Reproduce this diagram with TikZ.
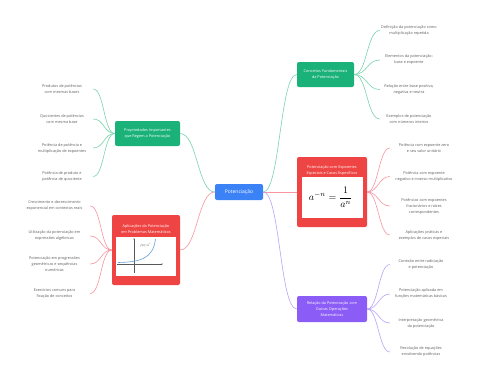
\documentclass[tikz,border=0pt]{standalone}
\usepackage{fontspec}
\setmainfont{Open Sans}
\usetikzlibrary{arrows.meta}
\definecolor{gnode}{RGB}{26,178,120}
\definecolor{gline}{RGB}{120,212,175}
\definecolor{rnode}{RGB}{239,68,68}
\definecolor{rline}{RGB}{248,150,162}
\definecolor{pnode}{RGB}{139,92,246}
\definecolor{pline}{RGB}{184,164,250}
\definecolor{bnode}{RGB}{59,130,246}
\definecolor{leaftext}{RGB}{95,95,95}
\definecolor{curveblue}{RGB}{100,160,215}
\tikzset{
  mainbox/.style={draw=none, rounded corners=2pt, text=white, align=center,
    font=\fontsize{3.8}{5.8}\selectfont, inner sep=0pt},
  leaf/.style={align=center, text=leaftext, font=\fontsize{3.8}{6}\selectfont, inner sep=0pt},
  conn/.style={line width=0.6pt},
}
\begin{document}
\begin{tikzpicture}[x=1pt,y=-1pt]
\useasboundingbox (0,0) rectangle (480,384);
\fill[white] (0,0) rectangle (480,384);

% main nodes
\node[mainbox, fill=bnode, minimum width=48pt, minimum height=16pt, font=\fontsize{5}{6}\selectfont] (c) at (239,192) {Potenciação};
\node[mainbox, fill=gnode, minimum width=65pt, minimum height=25pt] (prop) at (147.5,133.5) {Propriedades Importantes\\que Regem a Potenciação};
\node[mainbox, fill=gnode, minimum width=57pt, minimum height=25pt] (conc) at (325.5,74.5) {Conceitos Fundamentais\\da Potenciação};
\node[mainbox, fill=pnode, minimum width=70pt, minimum height=26pt] (rel) at (332,309) {Relação da Potenciação com\\Outras Operações\\Matemáticas};
\node[mainbox, fill=rnode, minimum width=68pt, minimum height=70pt] (apl) at (146,250) {};
\node[mainbox, fill=rnode, minimum width=70pt, minimum height=70pt] (esp) at (332,192) {};

% red node contents
\node[mainbox] (apltitle) at (146,229) {Aplicações da Potenciação\\em Problemas Matemáticos};
\node[fill=white, minimum width=60pt, minimum height=39pt, inner sep=0pt] (aplimg) at (146,256.5) {};
\node[mainbox] (esptitle) at (332,170.5) {Potenciação com Expoentes\\Especiais e Casos Específicos};
\node[fill=white, minimum width=61pt, minimum height=41pt, inner sep=0pt] (espimg) at (332.5,197.5) {};
\node[inner sep=0pt, font=\fontsize{10}{12}\selectfont] (formula) at (330.5,197.5) {$\displaystyle a^{-n} = \frac{1}{a^{n}}$};

% chart
\coordinate (ax0) at (117,264);
\coordinate (ax1) at (163,264);
\coordinate (ay0) at (134,273);
\coordinate (ay1) at (134,238);
\draw[line width=0.3pt, gray!70!black, -{Stealth[length=1.5pt,width=1.2pt]}] (ax0) -- (ax1);
\draw[line width=0.3pt, gray!70!black, -{Stealth[length=1.5pt,width=1.2pt]}] (ay0) -- (ay1);
\coordinate (cv0) at (118,262.5);
\coordinate (cv1) at (155.5,239);
\draw[curveblue, line width=0.6pt] (cv0) .. controls (140,262) and (153,259) .. (cv1);
\node[inner sep=0pt, font=\fontsize{2.8}{3}\selectfont, text=gray!60!black] (flab) at (145.5,245.5) {\textit{f}(\textit{x})\,=\,\textit{a}\textsuperscript{\textit{x}}};

% central connectors
\draw[conn, gline] (c.west) .. controls +(-17,0) and +(17,0) .. (prop.east);
\draw[conn, rline] (c.west) .. controls +(-17,0) and +(17,0) .. (apl.east);
\draw[conn, gline] (c.east) .. controls +(17,0) and +(-17,0) .. (conc.west);
\draw[conn, rline] (c.east) .. controls +(17,0) and +(-17,0) .. (esp.west);
\draw[conn, pline] (c.east) .. controls +(17,0) and +(-17,0) .. (rel.west);

% left top leaves
\node[leaf, minimum width=62pt] (l1) at (62,89) {Produtos de potências\\com mesmas bases};
\node[leaf, minimum width=62pt] (l2) at (62,119) {Quocientes de potências\\com mesma base};
\node[leaf, minimum width=62pt] (l3) at (62,148) {Potência de potência e\\multiplicação de expoentes};
\node[leaf, minimum width=62pt] (l4) at (62,176.5) {Potência de produto e\\potência de quociente};
\foreach \l in {l1,l2,l3,l4}
  \draw[conn, gline] (prop.west) .. controls +(-11,0) and +(11,0) .. (\l.east);

% left bottom leaves
\node[leaf, minimum width=71pt] (m1) at (54.5,206) {Crescimento e decrescimento\\exponencial em contextos reais};
\node[leaf, minimum width=71pt] (m2) at (54.5,236) {Utilização da potenciação em\\expressões algébricas};
\node[leaf, minimum width=71pt] (m3) at (54.5,264) {Potenciação em progressões\\geométricas e sequências\\numéricas};
\node[leaf, minimum width=71pt] (m4) at (54.5,293.5) {Exercícios comuns para\\fixação de conceitos};
\foreach \l in {m1,m2,m3,m4}
  \draw[conn, rline] (apl.west) .. controls +(-11,0) and +(11,0) .. (\l.east);

% right top leaves
\node[leaf, minimum width=58pt] (r1) at (409,30.5) {Definição da potenciação como\\multiplicação repetida};
\node[leaf, minimum width=58pt] (r2) at (409,60) {Elementos da potenciação:\\base e expoente};
\node[leaf, minimum width=58pt] (r3) at (409,89.5) {Relação entre base positiva,\\negativa e neutra};
\node[leaf, minimum width=58pt] (r4) at (409,119) {Exemplos de potenciação\\com números inteiros};
\foreach \l in {r1,r2,r3,r4}
  \draw[conn, gline] (conc.east) .. controls +(13,0) and +(-13,0) .. (\l.west);

% right middle leaves
\node[leaf, minimum width=68pt] (s1) at (424,148) {Potência com expoente zero\\e seu valor unitário};
\node[leaf, minimum width=68pt] (s2) at (424,176.5) {Potência com expoente\\negativo e inverso multiplicativo};
\node[leaf, minimum width=68pt] (s3) at (424,206) {Potências com expoentes\\fracionários e raízes\\correspondentes};
\node[leaf, minimum width=68pt] (s4) at (424,235) {Aplicações práticas e\\exemplos de casos especiais};
\foreach \l in {s1,s2,s3,s4}
  \draw[conn, rline] (esp.east) .. controls +(11,0) and +(-11,0) .. (\l.west);

% right bottom leaves
\node[leaf, minimum width=62pt] (t1) at (421,264.5) {Conexão entre radiciação\\e potenciação};
\node[leaf, minimum width=62pt] (t2) at (421,294) {Potenciação aplicada em\\funções matemáticas básicas};
\node[leaf, minimum width=62pt] (t3) at (421,323) {Interpretação geométrica\\da potenciação};
\node[leaf, minimum width=62pt] (t4) at (421,352) {Resolução de equações\\envolvendo potências};
\foreach \l in {t1,t2,t3,t4}
  \draw[conn, pline] (rel.east) .. controls +(11,0) and +(-11,0) .. (\l.west);
\end{tikzpicture}
\end{document}
